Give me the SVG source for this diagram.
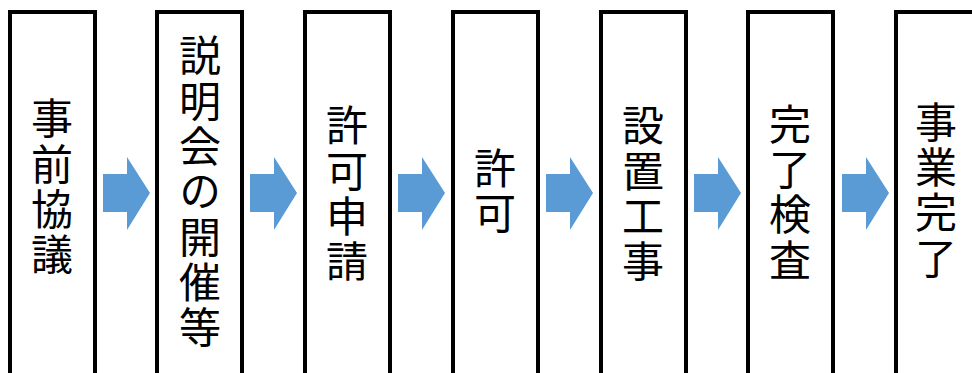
<svg xmlns="http://www.w3.org/2000/svg" xmlns:xlink="http://www.w3.org/1999/xlink" width="972" height="373" viewBox="0 0 972 373">
<style>
.box{fill:#ffffff;stroke:#000000;stroke-width:4}
.lbl{font-family:"Noto Sans CJK JP","Noto Sans CJK SC",sans-serif;font-size:42px;fill:#000000;text-anchor:middle;writing-mode:vertical-rl;letter-spacing:3.3px}
.arr{fill:#5B9BD5}
</style>
<defs>
<path id="arrow" class="arr" d="M0,174 H24 V157 L47,193 L24,230 V212 H0 Z"/>
</defs>
<rect width="972" height="373" fill="#ffffff"/>
<g id="connectors">
<use xlink:href="#arrow" href="#arrow" x="103"/>
<use xlink:href="#arrow" href="#arrow" x="250"/>
<use xlink:href="#arrow" href="#arrow" x="398"/>
<use xlink:href="#arrow" href="#arrow" x="546"/>
<use xlink:href="#arrow" href="#arrow" x="694"/>
<use xlink:href="#arrow" href="#arrow" x="842"/>
</g>
<g id="n1"><rect class="box" x="10" y="12" width="85" height="375"/>
<text class="lbl" x="52" y="188">事前協議</text></g>
<g id="n2"><rect class="box" x="157" y="12" width="85" height="375"/>
<text class="lbl" x="200" y="193">説明会の開催等</text></g>
<g id="n3"><rect class="box" x="305" y="12" width="85" height="375"/>
<text class="lbl" x="347" y="195">許可申請</text></g>
<g id="n4"><rect class="box" x="453" y="12" width="85" height="375"/>
<text class="lbl" x="495" y="192.5">許可</text></g>
<g id="n5"><rect class="box" x="601" y="12" width="85" height="375"/>
<text class="lbl" x="643" y="195">設置工事</text></g>
<g id="n6"><rect class="box" x="748" y="12" width="85" height="375"/>
<text class="lbl" x="790" y="193.5">完了検査</text></g>
<g id="n7"><rect class="box" x="896" y="12" width="85" height="375"/>
<text class="lbl" x="936" y="191.5">事業完了</text></g>
</svg>
